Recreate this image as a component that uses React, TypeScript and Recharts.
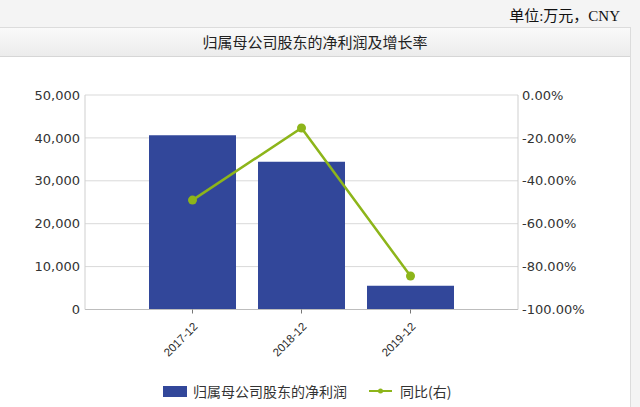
import React from 'react';
import { ComposedChart, Bar, Line, XAxis, YAxis, CartesianGrid, Legend } from 'recharts';

const periods = ['2017-12', '2018-12', '2019-12'];
const netProfit = [40600, 34450, 5550];
const yoyPct = [-49.0, -15.4, -84.4];
const leftTicks = [0, 10000, 20000, 30000, 40000, 50000];
const rightTicks = [-100, -80, -60, -40, -20, 0];

const BAR_COLOR = '#32479a';
const LINE_COLOR = '#8db51a';
const BAR_NAME = '归属母公司股东的净利润';
const LINE_NAME = '同比(右)';

const data = periods.map((p, i) => ({ period: p, profit: netProfit[i], yoy: yoyPct[i] }));

const fmtThousands = (v: number) => v.toLocaleString('en-US');
const fmtPct = (v: number) => `${v.toFixed(2)}%`;

const XTick = (props: any) => {
  const { x, y, payload } = props;
  const ax = x + 3;
  const ay = y + 9;
  return (
    <text
      x={ax}
      y={ay}
      dy="0.35em"
      textAnchor="end"
      fontSize={11.5}
      fontFamily="'Liberation Sans', Arial, sans-serif"
      fill="#2a2a2a"
      transform={`rotate(-45, ${ax}, ${ay})`}
    >
      {payload.value}
    </text>
  );
};

const LegendContent = () => (
  <div
    style={{
      display: 'flex',
      justifyContent: 'flex-start',
      alignItems: 'center',
      fontFamily: "'Noto Sans CJK SC', sans-serif",
      fontSize: 14,
      color: '#333',
      height: 20,
      paddingLeft: 163,
    }}
  >
    <span style={{ display: 'inline-block', width: 24, height: 11, background: BAR_COLOR, marginRight: 6 }} />
    <span style={{ marginRight: 22 }}>{BAR_NAME}</span>
    <svg width={23} height={10} style={{ marginRight: 8 }}>
      <line x1={0} y1={5} x2={23} y2={5} stroke={LINE_COLOR} strokeWidth={2} />
      <circle cx={11.5} cy={5} r={2.5} fill={LINE_COLOR} />
    </svg>
    <span>{LINE_NAME}</span>
  </div>
);

export default function App() {
  return (
    <div
      style={{
        position: 'absolute',
        left: 0,
        top: 0,
        width: 640,
        height: 407,
        background: '#f4f4f4',
        overflow: 'hidden',
      }}
    >
      <div
        style={{
          position: 'absolute',
          right: 20,
          top: 4,
          fontSize: 15,
          fontFamily: "'Liberation Serif', 'Noto Sans CJK SC', serif",
          color: '#111',
        }}
      >
        单位:万元，CNY
      </div>
      <div
        style={{
          position: 'absolute',
          left: -1,
          top: 27,
          width: 632,
          height: 390,
          background: '#fff',
          border: '1px solid #dcdcdc',
          boxSizing: 'border-box',
        }}
      />
      <div
        style={{
          position: 'absolute',
          left: 0,
          top: 28,
          width: 630,
          height: 28,
          background: 'linear-gradient(#fafafa, #ececec)',
          borderBottom: '1px solid #d6d6d6',
          textAlign: 'center',
          lineHeight: '28px',
          fontSize: 15,
          fontFamily: "'Noto Sans CJK SC', serif",
          color: '#222',
        }}
      >
        归属母公司股东的净利润及增长率
      </div>
      <div style={{ position: 'absolute', left: 0, top: 57 }}>
        <ComposedChart width={631} height={350} data={data} margin={{ top: 38, right: 0, left: 0, bottom: 0 }}>
          <CartesianGrid yAxisId="left" vertical={false} stroke="#d9d9d9" />
          <XAxis
            dataKey="period"
            type="category"
            padding={{ left: 53, right: 53 }}
            height={97.5}
            tick={<XTick />}
            tickSize={4}
            tickLine={{ stroke: '#777' }}
            axisLine={{ stroke: '#bdbdbd' }}
            interval={0}
          />
          <YAxis
            yAxisId="left"
            orientation="left"
            width={85}
            domain={[0, 50000]}
            ticks={leftTicks}
            tickFormatter={fmtThousands}
            tickSize={0}
            tickMargin={5}
            tickLine={false}
            axisLine={{ stroke: '#cfcfcf' }}
            tick={{ fontSize: 13, fill: '#333', fontFamily: "'DejaVu Sans', Verdana, sans-serif" }}
            interval={0}
          />
          <YAxis
            yAxisId="right"
            orientation="right"
            width={113}
            domain={[-100, 0]}
            ticks={rightTicks}
            tickFormatter={fmtPct}
            tickSize={0}
            tickMargin={4}
            tickLine={false}
            axisLine={{ stroke: '#cfcfcf' }}
            tick={{ fontSize: 13, fill: '#333', fontFamily: "'DejaVu Sans', Verdana, sans-serif", textAnchor: 'start' }}
            interval={0}
          />
          <Bar yAxisId="left" dataKey="profit" name={BAR_NAME} fill={BAR_COLOR} barSize={87} isAnimationActive={false} />
          <Line
            yAxisId="right"
            dataKey="yoy"
            name={LINE_NAME}
            stroke={LINE_COLOR}
            strokeWidth={2.5}
            dot={{ r: 4.5, fill: LINE_COLOR, stroke: LINE_COLOR, strokeWidth: 0 }}
            isAnimationActive={false}
          />
          <Legend
            layout="horizontal"
            verticalAlign="middle"
            align="center"
            content={<LegendContent />}
            wrapperStyle={{ top: 324, left: 0, width: 631, height: 20 }}
          />
        </ComposedChart>
      </div>
    </div>
  );
}
